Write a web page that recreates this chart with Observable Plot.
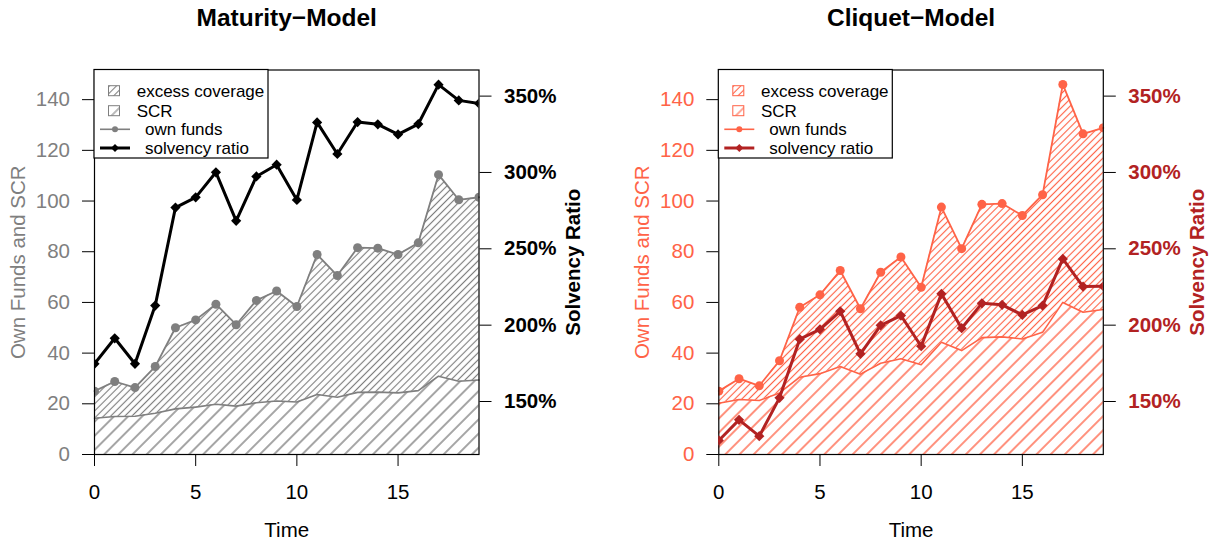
<!DOCTYPE html>
<html>
<head>
<meta charset="utf-8">
<script src="https://cdn.jsdelivr.net/npm/d3@7"></script>
<script src="https://cdn.jsdelivr.net/npm/@observablehq/plot@0.6"></script>
<style>
  body { margin: 0; background: #fff; }
  #wrap { position: relative; width: 1214px; height: 542px; overflow: hidden; font-family: "Liberation Sans", Arial, sans-serif; }
  #wrap svg { position: absolute; top: 0; }
</style>
</head>
<body>
<div id="wrap"></div>
<script>
// ---- data ----
const time = [0, 1, 2, 3, 4, 5, 6, 7, 8, 9, 10, 11, 12, 13, 14, 15, 16, 17, 18, 19];
const matOwnFunds = [25.0, 28.8, 26.4, 34.7, 50.0, 53.1, 59.3, 51.2, 60.8, 64.5, 58.4, 78.9, 70.6, 81.6, 81.4, 78.9, 83.5, 110.4, 100.5, 101.5];
const matSCR      = [14.3, 15.0, 15.1, 16.3, 18.0, 18.7, 19.8, 19.1, 20.4, 21.1, 20.7, 23.7, 22.6, 24.5, 24.6, 24.3, 25.2, 30.9, 28.9, 29.4];
const matSR       = [174.7, 191.4, 174.7, 212.8, 277.0, 283.7, 300.1, 268.3, 297.4, 305.1, 282.0, 332.8, 312.1, 333.0, 331.5, 324.9, 331.7, 357.5, 347.2, 345.2];
const cliOwnFunds = [25.0, 29.9, 27.1, 37.0, 58.1, 63.0, 72.6, 57.5, 71.9, 77.9, 66.0, 97.6, 81.2, 98.7, 99.0, 94.3, 102.5, 146.0, 126.5, 128.9];
const cliSCR      = [20.2, 21.7, 21.3, 24.3, 30.5, 31.9, 34.7, 31.7, 36.0, 37.8, 35.4, 44.3, 41.0, 46.1, 46.4, 45.6, 48.2, 60.0, 56.1, 57.2];
const cliSR       = [124.5, 138.0, 127.3, 152.4, 190.8, 197.3, 209.1, 181.2, 199.9, 206.3, 186.2, 220.5, 198.0, 214.3, 213.3, 206.7, 212.8, 243.4, 225.3, 225.5];
const xTicks = [0, 5, 10, 15];
const leftTicks = [0, 20, 40, 60, 80, 100, 120, 140];
const rightTicks = [150, 200, 250, 300, 350];
const legendLabels = ["excess coverage", "SCR", "own funds", "solvency ratio"];

const FONT = "'Liberation Sans', Arial, sans-serif";
const W = 607, H = 542, MT = 69.5, MB = 88;

function addHatch(svg, id, spacing, color, sw) {
  let defs = d3.select(svg).select("defs");
  if (defs.empty()) defs = d3.select(svg).insert("defs", ":first-child");
  const p = defs.append("pattern").attr("id", id)
    .attr("patternUnits", "userSpaceOnUse")
    .attr("width", spacing).attr("height", spacing)
    .attr("patternTransform", "rotate(45)");
  p.append("line").attr("x1", spacing / 2).attr("y1", -1).attr("x2", spacing / 2).attr("y2", spacing + 1)
    .attr("stroke", color).attr("stroke-width", sw);
}

function panel(cfg) {
  const rows = time.map((t, i) => ({t, of: cfg.of[i], scr: cfg.scr[i], sr: cfg.sr[i]}));
  const ml = cfg.ml, mr = W - cfg.ml - 384.5;
  const common = {
    width: W, height: H, marginLeft: ml, marginRight: mr, marginTop: MT, marginBottom: MB,
    style: {fontFamily: FONT, fontSize: "20.5px", background: "transparent", overflow: "visible"}
  };
  const A = Plot.plot({
    ...common,
    x: {domain: [0, 19]},
    y: {domain: [0, 151.7]},
    marks: [
      Plot.areaY(rows, {x: "t", y1: "scr", y2: "of", fill: `url(#${cfg.id}-dense)`}),
      Plot.areaY(rows, {x: "t", y1: 0, y2: "scr", fill: `url(#${cfg.id}-sparse)`}),
      Plot.lineY(rows, {x: "t", y: "scr", stroke: cfg.c, strokeWidth: 1.6}),
      Plot.lineY(rows, {x: "t", y: "of", stroke: cfg.c, strokeWidth: 1.8}),
      Plot.dot(rows, {x: "t", y: "of", fill: cfg.c, r: 4.5, clip: true}),
      Plot.frame({stroke: "black", strokeWidth: 1.2}),
      Plot.axisY({ticks: leftTicks, tickSize: 12, tickPadding: 12.5, fill: cfg.c, stroke: "black", label: null}),
      Plot.axisX({ticks: xTicks, tickSize: 12, tickPadding: 18, stroke: "black", fill: "black", label: null}),
      Plot.text(["Own Funds and SCR"], {frameAnchor: "left", dx: -76, rotate: -90, textAnchor: "middle", lineAnchor: "middle", fill: cfg.c}),
      Plot.text(["Time"], {frameAnchor: "bottom", dy: 76, textAnchor: "middle", lineAnchor: "middle", fill: "black"}),
      Plot.text([cfg.title], {frameAnchor: "top", dy: -51.5, textAnchor: "middle", lineAnchor: "middle", fontWeight: "bold", fontSize: 24.5, fill: "black"})
    ]
  });
  addHatch(A, cfg.id + "-dense", 5, cfg.c, 1.15);
  addHatch(A, cfg.id + "-sparse", 10, cfg.c, 1.4);
  A.style.left = cfg.left + "px";
  A.style.background = "transparent";

  const B = Plot.plot({
    ...common,
    x: {domain: [0, 19], axis: null},
    y: {domain: [115.3, 367.1]},
    marks: [
      Plot.lineY(rows, {x: "t", y: "sr", stroke: cfg.c2, strokeWidth: 3, clip: true}),
      Plot.dot(rows, {x: "t", y: "sr", fill: cfg.c2, symbol: "diamond2", r: 4.6, clip: true}),
      Plot.axisY({anchor: "right", ticks: rightTicks, tickFormat: d => d + "%", tickSize: 12, tickPadding: 13,
        fill: cfg.c2, stroke: "black", fontWeight: "bold", label: null}),
      Plot.text(["Solvency Ratio"], {frameAnchor: "right", dx: 94, rotate: -90, textAnchor: "middle", lineAnchor: "middle", fill: cfg.c2, fontWeight: "bold"})
    ]
  });
  B.style.left = cfg.left + "px";
  d3.select(B).selectAll("text").attr("font-weight", function() { return this.closest("g[aria-label='y-axis tick label']") || this.textContent === "Solvency Ratio" ? "bold" : null; });

  // legend (overlay)
  const L = d3.create("svg").attr("width", W).attr("height", H)
    .style("left", cfg.left + "px").style("font-family", FONT).style("font-size", "17px");
  const defs = L.append("defs");
  [["d", 5], ["s", 10]].forEach(([k, s]) => {
    const p = defs.append("pattern").attr("id", cfg.id + "-lg" + k).attr("patternUnits", "userSpaceOnUse")
      .attr("width", s).attr("height", s).attr("patternTransform", "rotate(45)");
    p.append("line").attr("x1", s / 2).attr("y1", -1).attr("x2", s / 2).attr("y2", s + 1).attr("stroke", cfg.c).attr("stroke-width", 1.1);
  });
  const g = L.append("g").attr("transform", `translate(${ml},${MT})`);
  g.append("rect").attr("x", 0).attr("y", 0).attr("width", 174).attr("height", 88.5).attr("fill", "white").attr("stroke", "black").attr("stroke-width", 1.2);
  const ys = [21.2, 41.2, 59.8, 78.5];
  g.append("rect").attr("x", 14.5).attr("y", ys[0] - 5).attr("width", 11).attr("height", 10).attr("fill", `url(#${cfg.id}-lgd)`).attr("stroke", cfg.c).attr("stroke-width", 1);
  g.append("rect").attr("x", 14.5).attr("y", ys[1] - 5).attr("width", 11).attr("height", 10).attr("fill", `url(#${cfg.id}-lgs)`).attr("stroke", cfg.c).attr("stroke-width", 1);
  g.append("line").attr("x1", 6).attr("x2", 36).attr("y1", ys[2]).attr("y2", ys[2]).attr("stroke", cfg.c).attr("stroke-width", 1.6);
  g.append("circle").attr("cx", 21).attr("cy", ys[2]).attr("r", 3).attr("fill", cfg.c);
  g.append("line").attr("x1", 6).attr("x2", 36).attr("y1", ys[3]).attr("y2", ys[3]).attr("stroke", cfg.c2).attr("stroke-width", 3);
  g.append("path").attr("d", `M21,${ys[3] - 4}L25,${ys[3]}L21,${ys[3] + 4}L17,${ys[3]}Z`).attr("fill", cfg.c2);
  const tx = [42.7, 42.7, 51, 51];
  legendLabels.forEach((lab, i) => {
    g.append("text").attr("x", tx[i]).attr("y", ys[i]).attr("dy", "0.35em").attr("fill", "black").text(lab);
  });

  const wrap = document.getElementById("wrap");
  wrap.appendChild(A);
  wrap.appendChild(B);
  wrap.appendChild(L.node());
}

panel({id: "mat", left: 0, ml: 94, title: "Maturity\u2212Model", of: matOwnFunds, scr: matSCR, sr: matSR, c: "#7f7f7f", c2: "#000000"});
panel({id: "cli", left: 607, ml: 111.3, title: "Cliquet\u2212Model", of: cliOwnFunds, scr: cliSCR, sr: cliSR, c: "#ff6347", c2: "#b22222"});
</script>
</body>
</html>
